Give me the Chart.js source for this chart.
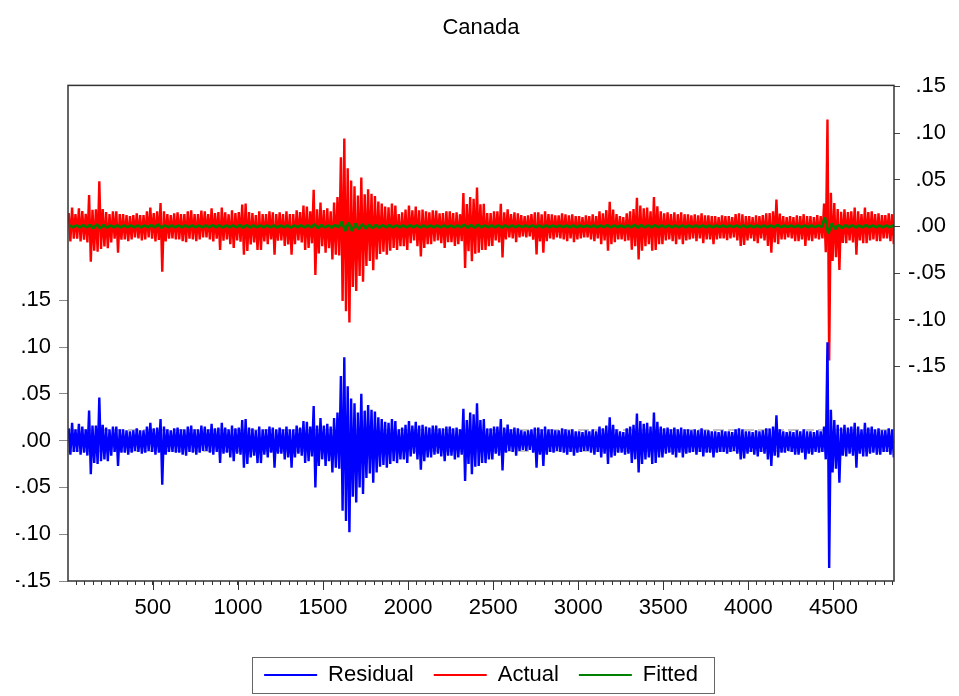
<!DOCTYPE html>
<html>
<head>
<meta charset="utf-8">
<title>Canada</title>
<script src="https://cdn.jsdelivr.net/npm/chart.js@4.4.1/dist/chart.umd.min.js"></script>
<style>
  html, body { margin: 0; padding: 0; background: #fff; }
  #wrap { width: 959px; height: 696px; }
</style>
</head>
<body>
<div id="wrap"><canvas id="resid"></canvas></div>
<script>
// Canada: residual / actual / fitted, observations 1..nObs.
// Residual is kept as block extremes, one high and one low per 20 obs;
// fitted (very small) per 40 obs.
var nObs = 4856;
var residBlock = 20;
var fittedBlock = 40;

var residHigh = [
  0.013, 0.019, 0.012, 0.018, 0.015, 0.012, 0.032, 0.016, 0.016, 0.046,
  0.017, 0.014, 0.012, 0.015, 0.015, 0.012, 0.012, 0.011, 0.010, 0.011,
  0.013, 0.011, 0.011, 0.015, 0.019, 0.013, 0.014, 0.023, 0.015, 0.012,
  0.011, 0.013, 0.014, 0.012, 0.012, 0.015, 0.016, 0.012, 0.012, 0.016,
  0.015, 0.012, 0.018, 0.013, 0.014, 0.019, 0.014, 0.012, 0.016, 0.013,
  0.014, 0.022, 0.023, 0.014, 0.013, 0.011, 0.015, 0.012, 0.012, 0.015,
  0.014, 0.012, 0.014, 0.012, 0.015, 0.012, 0.012, 0.016, 0.014, 0.021,
  0.020, 0.015, 0.037, 0.016, 0.024, 0.016, 0.018, 0.015, 0.024, 0.030,
  0.069, 0.089, 0.058, 0.045, 0.040, 0.030, 0.050, 0.032, 0.038, 0.033,
  0.031, 0.025, 0.023, 0.020, 0.019, 0.023, 0.021, 0.012, 0.014, 0.017,
  0.021, 0.016, 0.020, 0.016, 0.017, 0.015, 0.014, 0.016, 0.016, 0.013,
  0.013, 0.015, 0.015, 0.013, 0.014, 0.012, 0.034, 0.022, 0.030, 0.028,
  0.040, 0.022, 0.023, 0.013, 0.013, 0.015, 0.015, 0.023, 0.014, 0.017,
  0.012, 0.014, 0.013, 0.011, 0.010, 0.011, 0.012, 0.014, 0.014, 0.012,
  0.015, 0.012, 0.012, 0.011, 0.011, 0.013, 0.012, 0.011, 0.012, 0.010,
  0.010, 0.009, 0.011, 0.010, 0.012, 0.010, 0.015, 0.013, 0.016, 0.025,
  0.017, 0.012, 0.010, 0.009, 0.013, 0.015, 0.017, 0.029, 0.021, 0.018,
  0.019, 0.015, 0.030, 0.020, 0.015, 0.013, 0.014, 0.012, 0.014, 0.012,
  0.014, 0.012, 0.012, 0.011, 0.012, 0.011, 0.013, 0.011, 0.011, 0.010,
  0.010, 0.009, 0.011, 0.010, 0.010, 0.009, 0.012, 0.013, 0.012, 0.010,
  0.010, 0.009, 0.011, 0.010, 0.011, 0.013, 0.013, 0.015, 0.027, 0.012,
  0.010, 0.009, 0.010, 0.009, 0.011, 0.010, 0.012, 0.010, 0.010, 0.009,
  0.011, 0.010, 0.015, 0.105, 0.033, 0.022, 0.017, 0.014, 0.017, 0.014,
  0.015, 0.019, 0.015, 0.012, 0.019, 0.014, 0.015, 0.012, 0.013, 0.011,
  0.011, 0.013, 0.012
];
var residLow = [
  -0.015, -0.012, -0.012, -0.015, -0.013, -0.016, -0.036, -0.024, -0.025, -0.022,
  -0.020, -0.022, -0.016, -0.012, -0.027, -0.013, -0.013, -0.015, -0.013, -0.011,
  -0.012, -0.014, -0.013, -0.011, -0.012, -0.015, -0.013, -0.047, -0.015, -0.012,
  -0.012, -0.013, -0.013, -0.015, -0.016, -0.012, -0.013, -0.015, -0.013, -0.011,
  -0.011, -0.013, -0.015, -0.012, -0.024, -0.014, -0.013, -0.018, -0.022, -0.014,
  -0.015, -0.029, -0.025, -0.018, -0.016, -0.024, -0.024, -0.015, -0.018, -0.013,
  -0.029, -0.014, -0.014, -0.020, -0.018, -0.029, -0.018, -0.014, -0.016, -0.024,
  -0.022, -0.017, -0.050, -0.027, -0.020, -0.027, -0.022, -0.034, -0.029, -0.030,
  -0.075, -0.086, -0.098, -0.060, -0.066, -0.050, -0.057, -0.040, -0.035, -0.045,
  -0.034, -0.028, -0.026, -0.029, -0.025, -0.022, -0.024, -0.020, -0.020, -0.024,
  -0.017, -0.014, -0.020, -0.031, -0.022, -0.018, -0.018, -0.015, -0.014, -0.017,
  -0.022, -0.016, -0.016, -0.020, -0.018, -0.015, -0.043, -0.025, -0.036, -0.028,
  -0.027, -0.024, -0.024, -0.020, -0.020, -0.014, -0.016, -0.032, -0.013, -0.011,
  -0.012, -0.016, -0.011, -0.010, -0.011, -0.010, -0.013, -0.029, -0.015, -0.027,
  -0.015, -0.012, -0.013, -0.011, -0.012, -0.013, -0.015, -0.012, -0.016, -0.013,
  -0.012, -0.011, -0.011, -0.013, -0.015, -0.012, -0.018, -0.014, -0.025, -0.018,
  -0.016, -0.013, -0.013, -0.015, -0.014, -0.024, -0.020, -0.034, -0.025, -0.020,
  -0.018, -0.025, -0.024, -0.018, -0.018, -0.014, -0.013, -0.015, -0.018, -0.013,
  -0.018, -0.014, -0.013, -0.012, -0.015, -0.012, -0.017, -0.013, -0.013, -0.018,
  -0.013, -0.012, -0.012, -0.014, -0.012, -0.011, -0.014, -0.020, -0.019, -0.014,
  -0.012, -0.015, -0.017, -0.012, -0.014, -0.020, -0.027, -0.016, -0.018, -0.013,
  -0.013, -0.011, -0.012, -0.015, -0.015, -0.013, -0.020, -0.014, -0.015, -0.012,
  -0.013, -0.012, -0.020, -0.136, -0.034, -0.030, -0.045, -0.016, -0.017, -0.014,
  -0.016, -0.029, -0.014, -0.017, -0.017, -0.014, -0.013, -0.015, -0.015, -0.012,
  -0.012, -0.015, -0.018
];
var fittedHigh = [
  0.0012, 0.0012, 0.0014, 0.0016, 0.0022, 0.0014, 0.0012, 0.0011, 0.0010, 0.0010,
  0.0010, 0.0011, 0.0012, 0.0020, 0.0011, 0.0010, 0.0010, 0.0011, 0.0011, 0.0010,
  0.0011, 0.0012, 0.0012, 0.0010, 0.0011, 0.0013, 0.0014, 0.0011, 0.0011, 0.0011,
  0.0011, 0.0011, 0.0011, 0.0011, 0.0012, 0.0012, 0.0022, 0.0014, 0.0012, 0.0015,
  0.0050, 0.0042, 0.0030, 0.0024, 0.0018, 0.0015, 0.0013, 0.0013, 0.0012, 0.0011,
  0.0012, 0.0012, 0.0011, 0.0011, 0.0010, 0.0011, 0.0011, 0.0010, 0.0018, 0.0015,
  0.0016, 0.0012, 0.0011, 0.0012, 0.0011, 0.0010, 0.0010, 0.0009, 0.0010, 0.0010,
  0.0010, 0.0009, 0.0009, 0.0009, 0.0009, 0.0009, 0.0009, 0.0009, 0.0010, 0.0013,
  0.0011, 0.0009, 0.0010, 0.0016, 0.0013, 0.0012, 0.0015, 0.0010, 0.0010, 0.0010,
  0.0010, 0.0009, 0.0009, 0.0009, 0.0009, 0.0009, 0.0009, 0.0009, 0.0010, 0.0010,
  0.0009, 0.0009, 0.0010, 0.0011, 0.0016, 0.0009, 0.0009, 0.0009, 0.0010, 0.0009,
  0.0010, 0.0095, 0.0030, 0.0016, 0.0012, 0.0012, 0.0011, 0.0012, 0.0011, 0.0010,
  0.0010, 0.0010
];
var fittedLow = [
  -0.0012, -0.0012, -0.0013, -0.0020, -0.0022, -0.0015, -0.0012, -0.0012, -0.0010, -0.0010,
  -0.0010, -0.0010, -0.0011, -0.0016, -0.0011, -0.0010, -0.0010, -0.0011, -0.0010, -0.0010,
  -0.0010, -0.0011, -0.0013, -0.0011, -0.0012, -0.0014, -0.0013, -0.0012, -0.0012, -0.0011,
  -0.0013, -0.0011, -0.0013, -0.0011, -0.0012, -0.0012, -0.0020, -0.0013, -0.0014, -0.0013,
  -0.0050, -0.0050, -0.0032, -0.0024, -0.0020, -0.0016, -0.0013, -0.0012, -0.0012, -0.0012,
  -0.0011, -0.0013, -0.0011, -0.0011, -0.0010, -0.0011, -0.0010, -0.0010, -0.0016, -0.0014,
  -0.0013, -0.0012, -0.0011, -0.0013, -0.0010, -0.0010, -0.0009, -0.0009, -0.0012, -0.0012,
  -0.0010, -0.0009, -0.0009, -0.0010, -0.0010, -0.0009, -0.0009, -0.0010, -0.0010, -0.0012,
  -0.0010, -0.0010, -0.0011, -0.0014, -0.0012, -0.0012, -0.0012, -0.0010, -0.0010, -0.0010,
  -0.0010, -0.0009, -0.0010, -0.0010, -0.0010, -0.0009, -0.0009, -0.0009, -0.0010, -0.0010,
  -0.0010, -0.0010, -0.0010, -0.0012, -0.0010, -0.0009, -0.0009, -0.0010, -0.0010, -0.0009,
  -0.0009, -0.0077, -0.0030, -0.0018, -0.0011, -0.0013, -0.0010, -0.0010, -0.0010, -0.0010,
  -0.0010, -0.0010
];

// +/- one standard error band of the residual
var residSigma = 0.0112;

var yTickValues = [-0.15, -0.10, -0.05, 0, 0.05, 0.10, 0.15];
var xTickLabels = [500, 1000, 1500, 2000, 2500, 3000, 3500, 4000, 4500];
var xMinorStep = 50;

var FONT = "'Liberation Sans', Arial, sans-serif";
Chart.defaults.font.family = FONT;
Chart.defaults.color = '#000';

// actual = fitted + residual
function fittedAt(arr, j) { return arr[Math.floor(j * residBlock / fittedBlock)]; }
var actualHigh = residHigh.map(function (v, j) { return v + fittedAt(fittedHigh, j); });
var actualLow = residLow.map(function (v, j) { return v + fittedAt(fittedLow, j); });

// high early in the block, low late in it
function blockPoints(hi, lo, size) {
  var pts = [];
  for (var i = 0; i < hi.length; i++) {
    pts.push({ x: Math.min(i * size + size / 4, nObs), y: hi[i] });
    pts.push({ x: Math.min(i * size + size * 3 / 4, nObs), y: lo[i] });
  }
  return pts;
}

function fmtTick(v) {
  var s = Math.abs(v).toFixed(2).slice(1);
  return (v < -1e-9 ? '-' : '') + s;
}

function sigmaLine(y) {
  return {
    label: 'sigma', data: [{ x: 1, y: y }, { x: nObs, y: y }], yAxisID: 'y',
    borderColor: '#c4c4c4', backgroundColor: '#c4c4c4', borderWidth: 2,
    borderDash: [11, 4], pointRadius: 0, order: 3
  };
}

var seriesStyle = { pointRadius: 0, borderWidth: 2.4, borderJoinStyle: 'bevel', tension: 0 };

var datasets = [
  Object.assign({ label: 'Residual', data: blockPoints(residHigh, residLow, residBlock), yAxisID: 'y',
    borderColor: '#0000ff', backgroundColor: '#0000ff', order: 1 }, seriesStyle),
  Object.assign({ label: 'Actual', data: blockPoints(actualHigh, actualLow, residBlock), yAxisID: 'y2',
    borderColor: '#ff0000', backgroundColor: '#ff0000', order: 2 }, seriesStyle),
  Object.assign({ label: 'Fitted', data: blockPoints(fittedHigh, fittedLow, fittedBlock), yAxisID: 'y2',
    borderColor: '#008000', backgroundColor: '#008000', order: 0 }, seriesStyle, { borderWidth: 2.6 }),
  sigmaLine(residSigma),
  sigmaLine(-residSigma)
];

// frame round the plot, long ticks at the labelled x values, box round the legend
var framePlugin = {
  id: 'frame',
  afterDraw: function (chart) {
    var ctx = chart.ctx, a = chart.chartArea, xs = chart.scales.x;
    ctx.save();
    ctx.strokeStyle = '#333';
    ctx.lineWidth = 1.5;
    ctx.strokeRect(a.left, a.top, a.right - a.left, a.bottom - a.top);

    ctx.lineWidth = 1;
    xTickLabels.forEach(function (v) {
      var px = Math.round(xs.getPixelForValue(v)) + 0.5;
      ctx.beginPath();
      ctx.moveTo(px, a.bottom);
      ctx.lineTo(px, a.bottom + 9);
      ctx.stroke();
    });

    var hb = chart.legend.legendHitBoxes;
    if (hb && hb.length) {
      var l = Math.min.apply(null, hb.map(function (h) { return h.left; })) - 12;
      var r = Math.max.apply(null, hb.map(function (h) { return h.left + h.width; })) + 16;
      var t = hb[0].top - 7;
      var b = hb[0].top + hb[0].height + 7;
      ctx.strokeStyle = '#666';
      ctx.strokeRect(Math.round(l) + 0.5, Math.round(t) + 0.5, Math.round(r - l), Math.round(b - t));
    }
    ctx.restore();
  }
};

var tickFont = { family: FONT, size: 22 };

new Chart(document.getElementById('resid'), {
  type: 'line',
  data: { datasets: datasets },
  plugins: [framePlugin],
  options: {
    responsive: true,
    maintainAspectRatio: false,
    devicePixelRatio: 1,
    animation: false,
    parsing: false,
    normalized: true,
    layout: { padding: { left: 16, right: 13, top: 0, bottom: 0 } },
    plugins: {
      tooltip: { enabled: false },
      title: {
        display: true, text: 'Canada', color: '#000',
        font: { family: FONT, size: 22, weight: 'normal' },
        padding: { top: 15, bottom: 44 }
      },
      legend: {
        position: 'bottom',
        labels: {
          font: { family: FONT, size: 22 },
          color: '#000',
          boxWidth: 53,
          boxHeight: 2,
          padding: 20,
          generateLabels: function (chart) {
            return Chart.defaults.plugins.legend.labels.generateLabels(chart).map(function (it) {
              it.lineWidth = 0;
              it.fillStyle = it.strokeStyle;
              it.lineDash = [];
              return it;
            });
          },
          filter: function (it) { return it.datasetIndex < 3; },
          sort: function (a, b) { return a.datasetIndex - b.datasetIndex; }
        }
      }
    },
    scales: {
      x: {
        type: 'linear', position: 'bottom', min: 1, max: nObs,
        afterBuildTicks: function (s) {
          var t = [];
          for (var v = xMinorStep; v <= nObs; v += xMinorStep) t.push({ value: v });
          s.ticks = t;
        },
        afterFit: function (s) { s.height = 63; },
        grid: { drawOnChartArea: false, tickLength: 4, color: '#333' },
        border: { display: false },
        ticks: {
          autoSkip: false, maxRotation: 0, padding: 10, font: tickFont, color: '#000',
          callback: function (v) { return xTickLabels.indexOf(v) >= 0 ? String(v) : ''; }
        }
      },
      y: {
        position: 'left', min: -0.15, max: 0.3795,
        afterBuildTicks: function (s) { s.ticks = yTickValues.map(function (v) { return { value: v }; }); },
        afterFit: function (s) { s.width = 52; },
        grid: { drawOnChartArea: false, tickLength: 9, color: '#8a8a8a' },
        border: { display: false },
        ticks: { padding: 8, font: tickFont, color: '#000', callback: fmtTick }
      },
      y2: {
        position: 'right', min: -0.38, max: 0.151,
        afterBuildTicks: function (s) { s.ticks = yTickValues.map(function (v) { return { value: v }; }); },
        afterFit: function (s) { s.width = 52; },
        grid: { drawOnChartArea: false, tickLength: 6, color: '#444' },
        border: { display: false },
        ticks: { padding: 8, crossAlign: 'far', font: tickFont, color: '#000', callback: fmtTick }
      }
    }
  }
});
</script>
</body>
</html>
